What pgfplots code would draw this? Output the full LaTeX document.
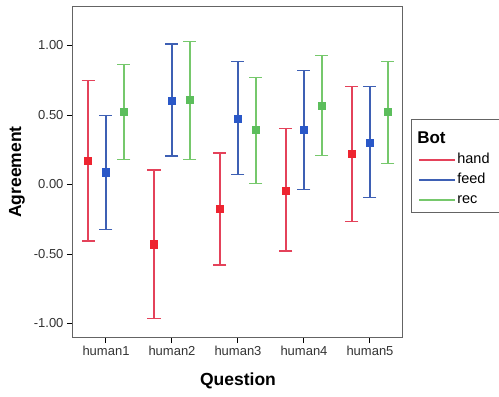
\documentclass[border=0pt]{standalone}
\usepackage{fontspec}
\setmainfont{Liberation Sans}
\usepackage{pgfplots}
\pgfplotsset{compat=1.18}
\definecolor{handL}{RGB}{228,66,90}
\definecolor{handM}{RGB}{238,36,48}
\definecolor{feedL}{RGB}{62,96,180}
\definecolor{feedM}{RGB}{42,88,200}
\definecolor{recL}{RGB}{118,200,108}
\definecolor{recM}{RGB}{92,190,92}
\definecolor{frame}{RGB}{100,100,100}
\begin{document}
\begin{tikzpicture}
\path[use as bounding box] (0,0) rectangle (499pt,397pt);
\begin{axis}[
  at={(73pt,60pt)}, anchor=south west,
  scale only axis, width=330pt, height=330pt,
  xmin=0.5, xmax=5.5, ymin=-1.097, ymax=1.277,
  xtick={1,2,3,4,5},
  xticklabels={human1,human2,human3,human4,human5},
  ytick={-1,-0.5,0,0.5,1},
  /pgf/number format/assume math mode=true,
  yticklabel style={/pgf/number format/.cd, fixed, fixed zerofill, precision=2},
  tick label style={font=\fontsize{13}{13}\selectfont, text=black!80},
  tick align=outside, tick pos=left, major tick length=6pt,
  tick style={black, line width=1pt},
  axis line style={frame, line width=1pt},
  xlabel={\textbf{Question}}, ylabel={\textbf{Agreement}},
  label style={font=\fontsize{17.5}{17.5}\selectfont},
  xlabel style={at={(axis description cs:0.5,-0.133)}, anchor=center},
  ylabel style={at={(axis description cs:-0.170,0.5)}, anchor=center},
  legend style={at={(1.024,0.661)}, anchor=north west, draw=frame, line width=0.8pt,
    font=\fontsize{14.5}{14.5}\selectfont, legend cell align=left,
    nodes={inner sep=1pt, text height=10.5pt, text depth=3pt, text width=60pt},
    row sep=4.5pt, inner xsep=7pt, inner ysep=5pt},
  legend image code/.code={\draw[#1] (0pt,0pt) -- (36pt,0pt);},
]
\addplot[only marks, mark=square*, mark size=3.6pt, color=handM, forget plot,
  error bars/.cd, y dir=both, y explicit,
  error bar style={color=handL, line width=1.2pt},
  error mark options={rotate=90, mark size=6.5pt, color=handL, line width=1.2pt}]
  table[x=x, y=y, y error plus=ep, y error minus=em] {
x y ep em
0.7273 0.169 0.578 0.575
1.7273 -0.430 0.534 0.533
2.7273 -0.176 0.403 0.403
3.7273 -0.045 0.446 0.433
4.7273 0.219 0.485 0.487
};
\addplot[only marks, mark=square*, mark size=3.6pt, color=feedM, forget plot,
  error bars/.cd, y dir=both, y explicit,
  error bar style={color=feedL, line width=1.2pt},
  error mark options={rotate=90, mark size=6.5pt, color=feedL, line width=1.2pt}]
  table[x=x, y=y, y error plus=ep, y error minus=em] {
x y ep em
1 0.088 0.407 0.413
2 0.603 0.408 0.398
3 0.473 0.410 0.400
4 0.392 0.427 0.427
5 0.301 0.403 0.393
};
\addplot[only marks, mark=square*, mark size=3.6pt, color=recM, forget plot,
  error bars/.cd, y dir=both, y explicit,
  error bar style={color=recL, line width=1.2pt},
  error mark options={rotate=90, mark size=6.5pt, color=recL, line width=1.2pt}]
  table[x=x, y=y, y error plus=ep, y error minus=em] {
x y ep em
1.2727 0.524 0.338 0.346
2.2727 0.608 0.422 0.430
3.2727 0.392 0.376 0.383
4.2727 0.565 0.362 0.358
5.2727 0.522 0.364 0.369
};
\addlegendimage{empty legend}
\addlegendentry[text height=18pt]{\hspace*{-40pt}\fontsize{17}{17}\selectfont\textbf{Bot}}
\addlegendimage{color=handL, line width=2pt}
\addlegendentry{hand}
\addlegendimage{color=feedL, line width=2pt}
\addlegendentry{feed}
\addlegendimage{color=recL, line width=2pt}
\addlegendentry{rec}
\end{axis}
\end{tikzpicture}
\end{document}
